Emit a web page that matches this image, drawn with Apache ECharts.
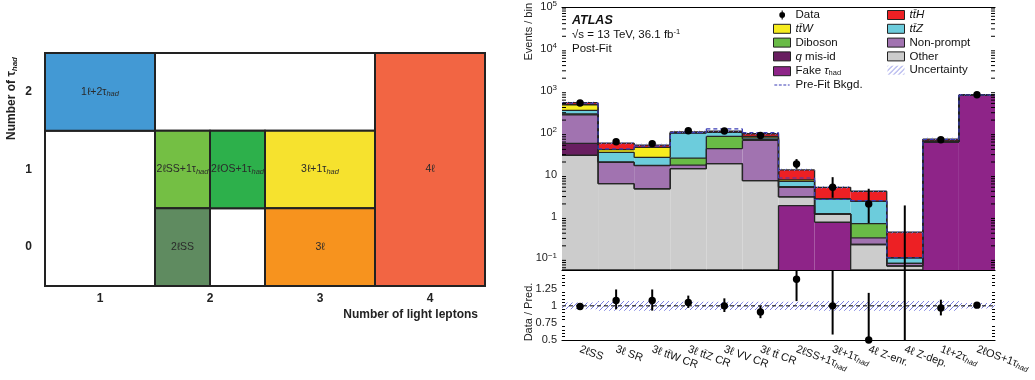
<!DOCTYPE html>
<html>
<head>
<meta charset="utf-8">
<script src="https://cdn.jsdelivr.net/npm/echarts@6.0.0/dist/echarts.min.js"></script>
<style>
html, body { margin: 0; padding: 0; background: #fff; }
#main { width: 1035px; height: 380px; }
</style>
</head>
<body>
<div id="main"></div>
<script>
// ---- left: analysis channels by light-lepton / tau_had multiplicity
var regionNames = ['1ℓ+2τ_had', '2ℓSS+1τ_had', '2ℓOS+1τ_had', '3ℓ+1τ_had', '4ℓ', '2ℓSS', '3ℓ'];
var regionLeptons = [[0.5, 1.5], [1.5, 2], [2, 2.5], [2.5, 3.5], [3.5, 4.5], [1.5, 2], [2.5, 3.5]];
var regionTaus = [[1.5, 2.5], [0.5, 1.5], [0.5, 1.5], [0.5, 1.5], [-0.5, 2.5], [-0.5, 0.5], [-0.5, 0.5]];
var emptyLeptons = [[0.5, 1.5], [1.5, 3.5], [2, 2.5]];
var emptyTaus = [[-0.5, 1.5], [1.5, 2.5], [-0.5, 0.5]];
var lepTicks = [1, 2, 3, 4];
var tauTicks = [0, 1, 2];

// ---- right: post-fit yields per region
var bins = ['2ℓSS', '3ℓ SR', '3ℓ tt̄W CR', '3ℓ tt̄Z CR', '3ℓ VV CR', '3ℓ tt̄ CR',
    '2ℓSS+1τ_had', '3ℓ+1τ_had', '4ℓ Z-enr.', '4ℓ Z-dep.', '1ℓ+2τ_had', '2ℓOS+1τ_had'];
var fakeTau   = [0, 0, 0, 0, 0, 0, 1.83, 0.73, 0, 0, 59.7, 775];
var other     = [29, 6.1, 4.6, 13.9, 18.3, 7.2, 1.1, 0.42, 0.215, 0.066, 1.0, 5];
var qMisId    = [27, 0, 0, 0, 0, 0, 0, 0, 0, 0, 0, 0];
var nonPrompt = [212, 13.5, 11.8, 3, 23.3, 58.4, 2.05, 0, 0.095, 0.01, 1.0, 0];
var diboson   = [12, 0.5, 0.3, 8, 40, 4, 0.2, 0, 0.37, 0, 0, 0];
var ttZ       = [60, 14, 9.1, 73, 20, 6, 1.7, 1.48, 1.63, 0.028, 1.0, 5];
var ttW       = [125, 5.4, 19, 2, 2, 6, 0.6, 0, 0, 0, 0.5, 2];
var ttH       = [55, 17, 6, 5, 6, 13, 5.5, 2.35, 1.7, 0.32, 7.5, 15];
var dataYield = [514, 61, 55, 111, 110, 86, 18, 5, 2, 0, 68, 807];
var dataLo    = [491, 53, 48, 100, 100, 77, 13.8, 2.8, 0.7, 0, 60, 779];
var dataHi    = [537, 69, 63, 122, 121, 95, 23.5, 8.7, 4.6, 1.84, 76, 835];
var preFit    = [505, 41, 48, 101, 124, 101, 8.3, 2.55, 2.4, 0.104, 69, 795];
var relUnc    = [0.05, 0.07, 0.07, 0.06, 0.06, 0.06, 0.06, 0.07, 0.07, 0.07, 0.07, 0.04];
var ratio     = [0.99, 1.08, 1.08, 1.05, 1.0, 0.91, 1.39, 1.0, 0.5, 0, 0.97, 1.01];
var ratioLo   = [0.96, 0.95, 0.93, 0.97, 0.91, 0.82, 1.07, 0.58, 0.17, 0, 0.86, 0.98];
var ratioHi   = [1.02, 1.24, 1.24, 1.15, 1.11, 1.0, 1.6, 1.6, 1.19, 1.6, 1.09, 1.04];

var FONT = '"Liberation Sans", Arial, Helvetica, sans-serif';
var Y_MIN = 0.053, Y_MAX = 1e5, R_MIN = 0.5, R_MAX = 1.525;

var regionColors = ['#4399d4', '#74bf44', '#2db04b', '#f6e22e', '#f26543', '#5f8b60', '#f7931e'];
var compVals = [fakeTau, other, qMisId, nonPrompt, diboson, ttZ, ttW, ttH];
var compNames = ['Fake τhad', 'Other', 'q mis-id', 'Non-prompt', 'Diboson', 'tt̄Z', 'tt̄W', 'tt̄H'];
var compColors = ['#8e2488', '#cccccc', '#681e60', '#a173b0', '#69bb46', '#6cccdc', '#f6ec1e', '#ed2024'];

var subStyle = { fontSize: 7.5, fontStyle: 'italic', verticalAlign: 'bottom', padding: [5, 0, 0, 0] };
function richify(s) { return s.replace(/τ_had/g, 'τ{s|had}'); }

// stacked levels
var levels = [];
compVals.forEach(function (vals, k) {
    levels.push(vals.map(function (v, i) { return (k ? levels[k - 1][i] : 0) + v; }));
});
var total = levels[levels.length - 1];

// minor tick values of the log axis (2..9 per decade)
var minorVals = [];
for (var e = -2; e < 5; e++) {
    for (var m = 2; m < 10; m++) {
        var mv = m * Math.pow(10, e);
        if (mv > Y_MIN && mv < Y_MAX) minorVals.push([0, mv]);
    }
}

function hatchPattern() {
    var c = document.createElement('canvas');
    c.width = 5; c.height = 5;
    var g = c.getContext('2d');
    g.strokeStyle = '#6d72dc';
    g.lineWidth = 0.9;
    g.beginPath();
    g.moveTo(0, 5); g.lineTo(5, 0);
    g.moveTo(-1, 1); g.lineTo(1, -1);
    g.moveTo(4, 6); g.lineTo(6, 4);
    g.stroke();
    return c;
}
var hatch = { image: hatchPattern(), repeat: 'repeat' };

function clamp(v, lo, hi) { return Math.min(Math.max(v, lo), hi); }

function cellRenderer(names, colors) {
    return function (params, api) {
        var a = api.coord([api.value(0), api.value(2)]);
        var b = api.coord([api.value(1), api.value(3)]);
        var x = Math.min(a[0], b[0]), y = Math.min(a[1], b[1]);
        var w = Math.abs(b[0] - a[0]), h = Math.abs(b[1] - a[1]);
        var children = [{ type: 'rect', shape: { x: x, y: y, width: w, height: h },
            style: { fill: colors ? colors[params.dataIndex] : '#fff', stroke: '#222', lineWidth: 2 } }];
        if (names) {
            children.push({ type: 'text', style: {
                text: richify(names[params.dataIndex]), x: x + w / 2, y: y + h / 2,
                align: 'center', verticalAlign: 'middle', textAlign: 'center', textVerticalAlign: 'middle',
                fontSize: 10.5, fontFamily: FONT, fill: '#2a2a2a',
                rich: { s: { fontSize: 7.5, fontStyle: 'italic', fill: '#2a2a2a', verticalAlign: 'bottom', padding: [4, 0, 0, 0] } }
            } });
        }
        return { type: 'group', children: children };
    };
}

function bandRenderer(lo, hi, fill) {
    return function (params, api) {
        var a = clamp(api.value(1), lo, hi), b = clamp(api.value(2), lo, hi);
        if (!(b > a)) return null;
        var w = api.size([1, 0])[0];
        var p = api.coord([api.value(0), a]), q = api.coord([api.value(0), b]);
        return { type: 'rect', shape: { x: p[0] - w / 2, y: q[1], width: w, height: p[1] - q[1] },
            style: { fill: fill || api.visual('color') } };
    };
}

function stepRenderer(style) {
    return function (params, api) {
        var i = api.value(0), top = clamp(api.value(1), Y_MIN, Y_MAX), prev = api.value(2);
        var w = api.size([1, 0])[0];
        var p = api.coord([i, top]);
        var kids = [{ type: 'line', shape: { x1: p[0] - w / 2, y1: p[1], x2: p[0] + w / 2, y2: p[1] }, style: style }];
        if (prev >= 0) {
            var q = api.coord([i, clamp(prev, Y_MIN, Y_MAX)]);
            kids.push({ type: 'line', shape: { x1: p[0] - w / 2, y1: q[1], x2: p[0] - w / 2, y2: p[1] }, style: style });
        }
        return { type: 'group', children: kids };
    };
}

function pointRenderer(lo, hi) {
    return function (params, api) {
        var i = api.value(0), v = api.value(1);
        var a = api.coord([i, clamp(api.value(2), lo, hi)]), b = api.coord([i, clamp(api.value(3), lo, hi)]);
        var kids = [];
        if (a[1] - b[1] > 0.5) {
            kids.push({ type: 'line', shape: { x1: a[0], y1: a[1], x2: b[0], y2: b[1] },
                style: { stroke: '#000', lineWidth: 2 } });
        }
        if (v >= lo * 0.999 && v <= hi) {
            var c = api.coord([i, v]);
            kids.push({ type: 'circle', shape: { cx: c[0], cy: c[1], r: 3.7 }, style: { fill: '#000' } });
        }
        return { type: 'group', children: kids };
    };
}

var series = [];
// left schematic
series.push({ type: 'custom', xAxisIndex: 0, yAxisIndex: 0, silent: true, renderItem: cellRenderer(null, null),
    data: emptyLeptons.map(function (l, i) { return [l[0], l[1], emptyTaus[i][0], emptyTaus[i][1]]; }) });
series.push({ type: 'custom', xAxisIndex: 0, yAxisIndex: 0, silent: true, renderItem: cellRenderer(regionNames, regionColors),
    data: regionLeptons.map(function (l, i) { return [l[0], l[1], regionTaus[i][0], regionTaus[i][1]]; }) });

// stacked components
compVals.forEach(function (vals, k) {
    series.push({ type: 'custom', name: compNames[k], xAxisIndex: 1, yAxisIndex: 1, z: 2,
        itemStyle: { color: compColors[k] },
        renderItem: bandRenderer(Y_MIN, Y_MAX),
        data: vals.map(function (v, i) { return [i, k ? levels[k - 1][i] : 0, levels[k][i]]; }) });
});
// outlines of each stacked level
var outlineRows = [];
levels.forEach(function (lev) {
    lev.forEach(function (v, i) { outlineRows.push([i, v, i ? lev[i - 1] : -1]); });
});
series.push({ type: 'custom', xAxisIndex: 1, yAxisIndex: 1, z: 3, silent: true,
    renderItem: stepRenderer({ stroke: '#262626', lineWidth: 1.3 }), data: outlineRows });
// uncertainty bands
series.push({ type: 'custom', name: 'Uncertainty', xAxisIndex: 1, yAxisIndex: 1, z: 4,
    itemStyle: { color: hatch }, renderItem: bandRenderer(Y_MIN, Y_MAX, hatch),
    data: total.map(function (t, i) { return [i, t * (1 - relUnc[i]), t * (1 + relUnc[i])]; }) });
series.push({ type: 'custom', name: 'Uncertainty', xAxisIndex: 3, yAxisIndex: 3, z: 4,
    itemStyle: { color: hatch }, renderItem: bandRenderer(R_MIN, R_MAX, hatch),
    data: relUnc.map(function (u, i) { return [i, 1 - u, 1 + u]; }) });
// pre-fit background
series.push({ type: 'custom', name: 'Pre-Fit Bkgd.', xAxisIndex: 1, yAxisIndex: 1, z: 5,
    itemStyle: { color: '#3a3db5' },
    renderItem: stepRenderer({ stroke: '#3a3db5', lineWidth: 1.2, lineDash: [4, 3] }),
    data: preFit.map(function (v, i) { return [i, v, i ? preFit[i - 1] : -1]; }) });
// reference line at 1 in ratio
series.push({ type: 'custom', xAxisIndex: 3, yAxisIndex: 3, z: 5, silent: true,
    renderItem: function (params, api) {
        var cs = params.coordSys, y = api.coord([0, 1])[1];
        return { type: 'line', shape: { x1: cs.x, y1: y, x2: cs.x + cs.width, y2: y },
            style: { stroke: '#000', lineWidth: 1, lineDash: [4, 3] } };
    }, data: [[0, 1]] });
// minor ticks on the log axis, both sides
series.push({ type: 'custom', xAxisIndex: 1, yAxisIndex: 1, z: 11, silent: true,
    renderItem: function (params, api) {
        var cs = params.coordSys, y = api.coord([0, api.value(1)])[1];
        var st = { stroke: '#000', lineWidth: 1 };
        return { type: 'group', children: [
            { type: 'line', shape: { x1: cs.x, y1: y, x2: cs.x + 4, y2: y }, style: st },
            { type: 'line', shape: { x1: cs.x + cs.width - 4, y1: y, x2: cs.x + cs.width, y2: y }, style: st }
        ] };
    }, data: minorVals });
// data
series.push({ type: 'custom', name: 'Data', xAxisIndex: 1, yAxisIndex: 1, z: 6,
    itemStyle: { color: '#000' }, renderItem: pointRenderer(Y_MIN, Y_MAX),
    data: dataYield.map(function (v, i) { return [i, v, dataLo[i], dataHi[i]]; }) });
series.push({ type: 'custom', name: 'Data', xAxisIndex: 3, yAxisIndex: 3, z: 6,
    itemStyle: { color: '#000' }, renderItem: pointRenderer(R_MIN, R_MAX),
    data: ratio.map(function (v, i) { return [i, v, ratioLo[i], ratioHi[i]]; }) });

function logLabel(v) {
    var e = Math.log10(v), r = Math.round(e);
    if (Math.abs(e - r) > 1e-6) return '';
    if (r === 0) return '1';
    if (r === 1) return '10';
    return '10{sup|' + (r < 0 ? '−' + (-r) : r) + '}';
}

var frameLine = { lineStyle: { color: '#000', width: 1.2 } };
var supStyle = { fontSize: 8, color: '#222', verticalAlign: 'top', padding: [0, 0, 6, 0] };

var legendIcons = {
    'Data': 'path://M0,0h0.01v0.01h-0.01z M16.99,9.99h0.01v0.01h-0.01z M8.1,0h1.2v10h-1.2z M5.5,5a3.2,3.2 0 1,1 6.4,0a3.2,3.2 0 1,1 -6.4,0z',
    'Pre-Fit Bkgd.': 'path://M0,0h0.01v0.01h-0.01z M16.99,9.99h0.01v0.01h-0.01z M0,4.4h3.2v1.2h-3.2z M5,4.4h3.2v1.2h-3.2z M10,4.4h3.2v1.2h-3.2z M15,4.4h2v1.2h-2z'
};
function legendItems(names) {
    return names.map(function (n) {
        if (legendIcons[n]) return { name: n, icon: legendIcons[n], itemStyle: { borderWidth: 0 } };
        if (n === 'Uncertainty') return { name: n, itemStyle: { borderWidth: 0 } };
        return { name: n };
    });
}
var legendText = {
    fontSize: 11.5, fontFamily: FONT, color: '#111', lineHeight: 12,
    rich: {
        i: { fontSize: 11.5, fontStyle: 'italic', color: '#111', lineHeight: 12 },
        s: { fontSize: 7.5, color: '#111', verticalAlign: 'bottom', padding: [5, 0, 0, 0], lineHeight: 8 }
    }
};
function legendFormat(n) {
    if (n === 'tt̄W' || n === 'tt̄Z' || n === 'tt̄H') return '{i|' + n + '}';
    if (n === 'q mis-id') return '{i|q} mis-id';
    if (n === 'Fake τhad') return 'Fake {i|τ}{s|had}';
    return n;
}
var legendBase = { orient: 'vertical', top: 9, itemWidth: 17, itemHeight: 9, itemGap: 1.8, icon: 'rect',
    itemStyle: { borderColor: '#222', borderWidth: 1 }, textStyle: legendText, formatter: legendFormat,
    selectedMode: false, padding: 0 };

var option = {
    animation: false,
    textStyle: { fontFamily: FONT },
    grid: [
        { left: 45, top: 53, width: 440, height: 233 },
        { left: 562, top: 4, width: 433, height: 266 },
        { left: 562, top: 270, width: 433, height: 70 }
    ],
    legend: [
        Object.assign({}, legendBase, { left: 773, data: legendItems(['Data', 'tt̄W', 'Diboson', 'q mis-id', 'Fake τhad', 'Pre-Fit Bkgd.']) }),
        Object.assign({}, legendBase, { left: 887, data: legendItems(['tt̄H', 'tt̄Z', 'Non-prompt', 'Other', 'Uncertainty']) })
    ],
    xAxis: [
        { gridIndex: 0, type: 'value', min: 0.5, max: 4.5, axisLine: { show: false }, axisTick: { show: false },
          splitLine: { show: false },
          axisLabel: { customValues: lepTicks, fontWeight: 'bold', fontSize: 12, color: '#222', margin: 7 } },
        { gridIndex: 1, type: 'category', data: bins, position: 'bottom', z: 10, axisLine: frameLine,
          axisTick: { inside: true, length: 5, lineStyle: { color: '#000' } }, axisLabel: { show: false } },
        { gridIndex: 1, type: 'category', data: bins, position: 'top', z: 10, axisLine: frameLine,
          axisTick: { inside: true, length: 4, lineStyle: { color: '#000' } }, axisLabel: { show: false } },
        { gridIndex: 2, type: 'category', data: bins, position: 'bottom', z: 10, axisLine: frameLine,
          axisTick: { inside: true, length: 5, lineStyle: { color: '#000' } },
          axisLabel: { interval: 0, rotate: -20, fontSize: 11, color: '#111', margin: 9,
                       formatter: richify, rich: { s: subStyle } } }
    ],
    yAxis: [
        { gridIndex: 0, type: 'value', min: -0.5, max: 2.5, axisLine: { show: false }, axisTick: { show: false },
          splitLine: { show: false },
          axisLabel: { customValues: tauTicks, fontWeight: 'bold', fontSize: 12, color: '#222', margin: 13 } },
        { gridIndex: 1, type: 'log', logBase: 10, min: Y_MIN, max: Y_MAX, position: 'left', z: 10,
          axisLine: frameLine, splitLine: { show: false },
          axisTick: { inside: true, length: 8, lineStyle: { color: '#000' } },
          axisLabel: { fontSize: 11, color: '#222', margin: 5, formatter: logLabel, showMinLabel: true,
                       rich: { sup: supStyle } } },
        { gridIndex: 1, type: 'log', logBase: 10, min: Y_MIN, max: Y_MAX, position: 'right', z: 10,
          axisLine: frameLine, splitLine: { show: false },
          axisTick: { inside: true, length: 8, lineStyle: { color: '#000' } }, axisLabel: { show: false } },
        { gridIndex: 2, type: 'value', min: R_MIN, max: R_MAX, interval: 0.25, position: 'left', z: 10,
          axisLine: frameLine, splitLine: { show: false },
          axisTick: { inside: true, length: 7, lineStyle: { color: '#000' } },
          minorTick: { show: true, splitNumber: 5, length: 3, lineStyle: { color: '#000' } },
          axisLabel: { fontSize: 11, color: '#222', margin: 5,
                       formatter: function (v) { return v > 1.3 ? '' : String(v); } } },
        { gridIndex: 2, type: 'value', min: R_MIN, max: R_MAX, interval: 0.25, position: 'right', z: 10,
          axisLine: frameLine, splitLine: { show: false },
          axisTick: { inside: true, length: 7, lineStyle: { color: '#000' } },
          minorTick: { show: true, splitNumber: 5, length: 3, lineStyle: { color: '#000' } },
          axisLabel: { show: false } }
    ],
    graphic: [
        { type: 'text', x: 12, y: 57, rotation: Math.PI / 2, silent: true,
          style: { text: 'Number of τ{s|had}', textAlign: 'right', align: 'right', textVerticalAlign: 'middle', verticalAlign: 'middle',
                   fontSize: 12, fontWeight: 'bold', fontFamily: FONT, fill: '#222',
                   rich: { s: { fontSize: 8, fontWeight: 'bold', fontStyle: 'italic', fill: '#222', verticalAlign: 'bottom', padding: [5, 0, 0, 0] } } } },
        { type: 'text', x: 478, y: 315, silent: true,
          style: { text: 'Number of light leptons', textAlign: 'right', align: 'right', textVerticalAlign: 'middle', verticalAlign: 'middle',
                   fontSize: 12, fontWeight: 'bold', fontFamily: FONT, fill: '#222' } },
        { type: 'text', x: 529, y: 3, rotation: Math.PI / 2, silent: true,
          style: { text: 'Events / bin', textAlign: 'right', align: 'right', textVerticalAlign: 'middle', verticalAlign: 'middle',
                   fontSize: 11, fontFamily: FONT, fill: '#222' } },
        { type: 'text', x: 529, y: 312, rotation: Math.PI / 2, silent: true,
          style: { text: 'Data / Pred.', textAlign: 'center', align: 'center', textVerticalAlign: 'middle', verticalAlign: 'middle',
                   fontSize: 11, fontFamily: FONT, fill: '#222' } },
        { type: 'text', x: 572, y: 21, silent: true,
          style: { text: 'ATLAS', textVerticalAlign: 'middle', verticalAlign: 'middle',
                   fontSize: 12.5, fontWeight: 'bold', fontStyle: 'italic', fontFamily: FONT, fill: '#111' } },
        { type: 'text', x: 572, y: 35, silent: true,
          style: { text: '√s = 13 TeV, 36.1 fb{sup|-1}', textVerticalAlign: 'middle', verticalAlign: 'middle',
                   fontSize: 11.5, fontFamily: FONT, fill: '#111',
                   rich: { sup: { fontSize: 7.5, fill: '#111', verticalAlign: 'top', padding: [0, 0, 6, 0] } } } },
        { type: 'text', x: 572, y: 49, silent: true,
          style: { text: 'Post-Fit', textVerticalAlign: 'middle', verticalAlign: 'middle',
                   fontSize: 11.5, fontFamily: FONT, fill: '#111' } }
    ],
    series: series
};

var myChart = echarts.init(document.getElementById('main'));
myChart.setOption(option);
window.onresize = function () { myChart.resize(); };
</script>
</body>
</html>
